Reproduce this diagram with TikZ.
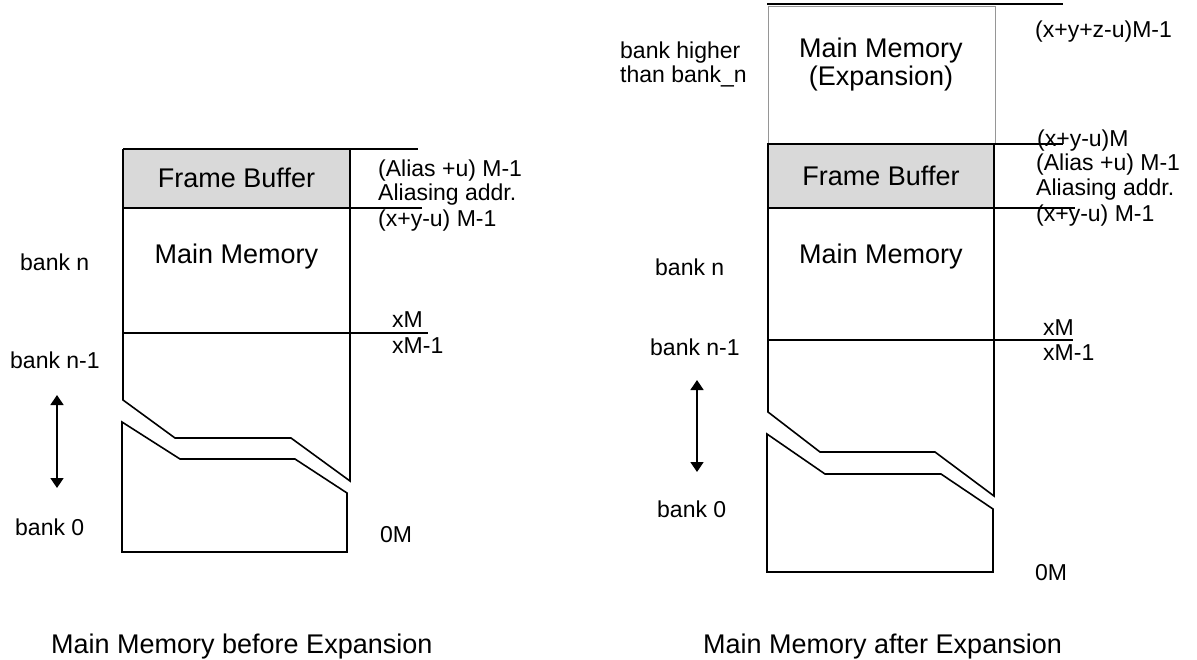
\documentclass[tikz,border=0pt]{standalone}
\usepackage{fontspec}
\setmainfont{Liberation Sans}
\usetikzlibrary{arrows.meta}
\definecolor{fbgray}{RGB}{217,217,217}
\definecolor{expgray}{RGB}{150,150,150}
\begin{document}
\begin{tikzpicture}[x=1pt,y=-1pt,
  lbl/.style={anchor=base west,inner sep=0pt,font=\fontsize{23}{27}\selectfont},
  boxtxt/.style={anchor=base,inner sep=0pt,font=\fontsize{27}{32}\selectfont},
  captxt/.style={anchor=base west,inner sep=0pt,font=\fontsize{27}{32}\selectfont},
  edgeline/.style={line width=1.6pt,line join=miter},
  sepline/.style={line width=2.8pt},
  expbox/.style={draw=expgray,line width=1pt},
  bankarrow/.style={line width=1.5pt,{Triangle[width=13pt,length=10pt]}-{Triangle[width=13pt,length=10pt]}}
]
\useasboundingbox (0,0) rectangle (1197,659);

% ---------------- left: before expansion ----------------
\fill[fbgray] (123,149) rectangle (350,208);
\draw[edgeline] (123,149) -- (123,400) -- (175,438) -- (291,438) -- (350,481) -- (350,149);
\draw[edgeline] (122,422) -- (180,459) -- (295,459) -- (347,493) -- (347,552) -- (122,552) -- cycle;
\draw[sepline] (123,149) -- (418,149);
\draw[sepline] (123,208) -- (422,208);
\draw[sepline] (123,333) -- (428,333);

\node[boxtxt] (lfb) at (236.5,187) {Frame Buffer};
\node[boxtxt] (lmm) at (236.5,263) {Main Memory};

\node[lbl] (lalias) at (378,176) {(Alias +u) M-1};
\node[lbl] (laddr) at (378,200) {Aliasing addr.};
\node[lbl] (lxyu) at (378,226) {(x+y-u) M-1};
\node[lbl] (lxm) at (392,327) {xM};
\node[lbl] (lxm1) at (392,353) {xM-1};
\node[lbl] (l0m) at (380,542) {0M};

\node[lbl] (lbn) at (20,270) {bank n};
\node[lbl] (lbn1) at (10,368) {bank n-1};
\node[lbl] (lb0) at (15,535) {bank 0};
\coordinate (la1) at (57,395);
\coordinate (la2) at (57,488);
\draw[bankarrow] (la1) -- (la2);

\node[captxt] (lcap) at (51,653) {Main Memory before Expansion};

% ---------------- right: after expansion ----------------
\draw[expbox] (768,6) rectangle (995,143);
\fill[fbgray] (768,144) rectangle (995,208);
\draw[edgeline] (768,144) -- (768,412) -- (820,452) -- (935,452) -- (994,496) -- (994,144);
\draw[edgeline] (767,434) -- (825,474) -- (941,474) -- (993,509) -- (993,572) -- (767,572) -- cycle;
\draw[sepline] (767,4) -- (1063,4);
\draw[sepline] (767,144) -- (1063,144);
\draw[sepline] (767,208) -- (1075,208);
\draw[sepline] (767,340) -- (1073,340);

\node[boxtxt] (rexp1) at (881,57) {Main Memory};
\node[boxtxt] (rexp2) at (881,85) {(Expansion)};
\node[boxtxt] (rfb) at (881,185) {Frame Buffer};
\node[boxtxt] (rmm) at (881,263) {Main Memory};

\node[lbl] (rtop) at (1035,37) {(x+y+z-u)M-1};
\node[lbl] (rxyum) at (1037,146) {(x+y-u)M};
\node[lbl] (ralias) at (1036,170) {(Alias +u) M-1};
\node[lbl] (raddr) at (1036,195) {Aliasing addr.};
\node[lbl] (rxyu) at (1036,221) {(x+y-u) M-1};
\node[lbl] (rxm) at (1043,335) {xM};
\node[lbl] (rxm1) at (1043,360) {xM-1};
\node[lbl] (r0m) at (1035,580) {0M};

\node[lbl] (rhigh1) at (620,58) {bank higher};
\node[lbl] (rhigh2) at (620,82) {than bank\_n};
\node[lbl] (rbn) at (655,275) {bank n};
\node[lbl] (rbn1) at (650,355) {bank n-1};
\node[lbl] (rb0) at (657,517) {bank 0};
\coordinate (ra1) at (697,380);
\coordinate (ra2) at (697,472);
\draw[bankarrow] (ra1) -- (ra2);

\node[captxt] (rcap) at (703,653) {Main Memory after Expansion};
\end{tikzpicture}
\end{document}
